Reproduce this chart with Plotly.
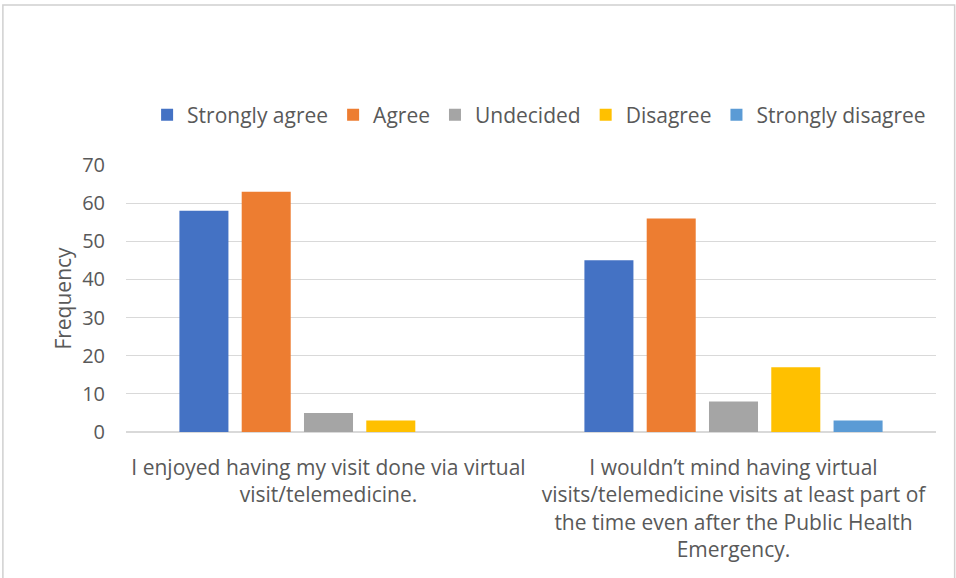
import plotly.graph_objects as go

categories = [
    "I enjoyed having my visit done via virtual<br>visit/telemedicine.",
    "I wouldn’t mind having virtual<br>visits/telemedicine visits at least part of<br>the time even after the Public Health<br>Emergency.",
]
series_names = ["Strongly agree", "Agree", "Undecided", "Disagree", "Strongly disagree"]
series_values = [
    [58, 45],
    [63, 56],
    [5, 8],
    [3, 17],
    [0, 3],
]
colors = ["#4472C4", "#ED7D31", "#A5A5A5", "#FFC000", "#5B9BD5"]
y_ticks = [0, 10, 20, 30, 40, 50, 60, 70]

FONT = "Open Sans"
TXT = "#595959"

fig = go.Figure()
for name, vals, col in zip(series_names, series_values, colors):
    fig.add_trace(go.Bar(name=name, x=categories, y=vals, marker=dict(color=col, line=dict(width=0))))

fig.update_layout(
    width=956, height=578,
    margin=dict(l=126, r=20, t=165, b=146),
    paper_bgcolor="white", plot_bgcolor="white",
    barmode="group", bargap=0.231, bargroupgap=0.213,
    font=dict(family=FONT, size=20, color=TXT),
    showlegend=True,
    legend=dict(orientation="h", x=0.51, xanchor="center", y=1.187, yanchor="middle",
                font=dict(family=FONT, size=21, color=TXT), itemwidth=30,
                traceorder="normal"),
    xaxis=dict(showgrid=False, showline=False, ticks="", ticklabelstandoff=21,
               tickfont=dict(family=FONT, size=21, color=TXT)),
    yaxis=dict(range=[0, 70], tickvals=y_ticks, showgrid=True, gridcolor="#d9d9d9", gridwidth=1,
               zeroline=True, zerolinecolor="#d9d9d9", zerolinewidth=1.5,
               showline=False, ticks="", ticklabelstandoff=20,
               tickfont=dict(family=FONT, size=20, color=TXT),
               title=dict(text="Frequency", standoff=4, font=dict(family=FONT, size=21, color=TXT))),
    shapes=[dict(type="rect", xref="paper", yref="paper", x0=-0.152, x1=1.023, y0=-1, y1=1.599,
                 line=dict(color="#d0d0d0", width=1.5), fillcolor="rgba(0,0,0,0)", layer="below")],
)

fig.write_html("out.html")
